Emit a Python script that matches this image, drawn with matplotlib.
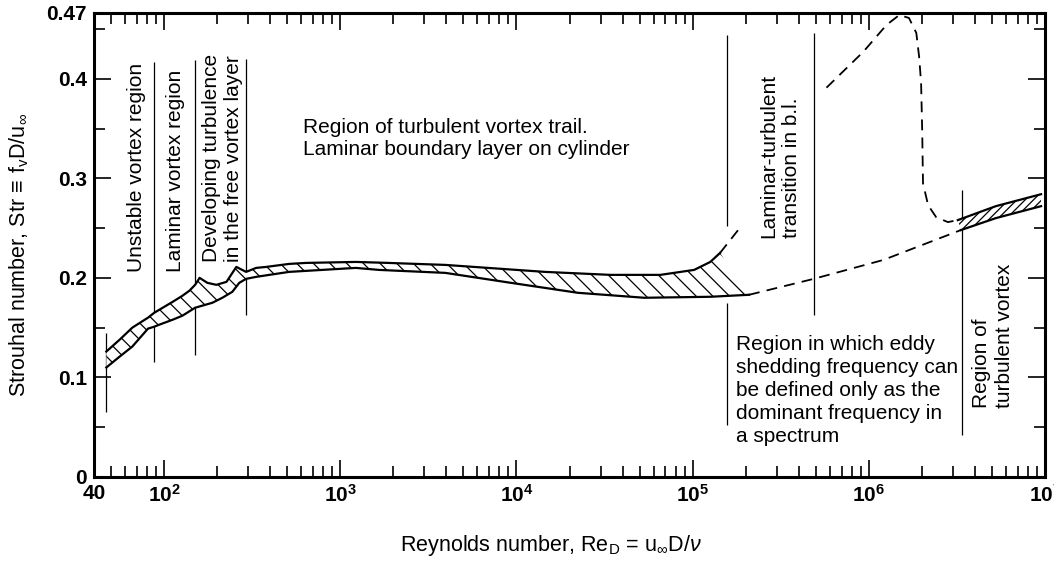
import numpy as np
import matplotlib
matplotlib.use('Agg')
import matplotlib.pyplot as plt
from matplotlib.ticker import FixedLocator, FixedFormatter, NullFormatter

plt.rcParams['font.family'] = ['Liberation Sans', 'DejaVu Sans']
plt.rcParams['mathtext.fontset'] = 'custom'
plt.rcParams['mathtext.rm'] = 'Liberation Sans'
plt.rcParams['mathtext.it'] = 'Liberation Sans:italic'
plt.rcParams['mathtext.bf'] = 'Liberation Sans:bold'
plt.rcParams['hatch.linewidth'] = 0.9

# ---------------- data (Reynolds number, Strouhal number) ----------------
band_upper_re = [47, 56, 66, 81, 88, 94, 112, 127, 139, 150, 159, 176, 198, 226,
                 257, 292, 333, 380, 512, 638, 1224, 1880, 3948, 14500, 34200,
                 65600, 1.02e5, 1.26e5, 1.43e5]
band_upper_st = [0.126, 0.138, 0.150, 0.160, 0.165, 0.168, 0.176, 0.182, 0.187,
                 0.193, 0.200, 0.195, 0.193, 0.196, 0.211, 0.206, 0.210, 0.211,
                 0.214, 0.215, 0.216, 0.215, 0.213, 0.206, 0.203, 0.203, 0.208,
                 0.216, 0.225]
band_lower_re = [47, 56, 66, 81, 88, 94, 112, 127, 150, 188, 214, 244, 267, 292,
                 333, 512, 1224, 1652, 3948, 9300, 22300, 53200, 1.26e5, 2.09e5]
band_lower_st = [0.110, 0.121, 0.131, 0.149, 0.151, 0.153, 0.158, 0.162, 0.170,
                 0.175, 0.180, 0.186, 0.195, 0.199, 0.201, 0.206, 0.210, 0.208,
                 0.205, 0.195, 0.185, 0.180, 0.181, 0.183]

trans_dash_re = [1.43e5, 1.85e5]
trans_dash_st = [0.225, 0.250]

lower_dash_re = [2.09e5, 4.87e5, 1.21e6, 3.33e6]
lower_dash_st = [0.183, 0.199, 0.218, 0.248]

upper_dash_re = [5.75e5, 9.3e5, 1.26e6, 1.49e6, 1.69e6, 1.86e6, 1.93e6, 1.98e6,
                 2.01e6, 2.03e6, 2.17e6, 2.41e6, 2.81e6, 3.2e6]
upper_dash_st = [0.391, 0.427, 0.454, 0.464, 0.461, 0.446, 0.422, 0.396,
                 0.346, 0.295, 0.273, 0.261, 0.256, 0.258]

right_upper_re = [3.2e6, 5.26e6, 9.5e6]
right_upper_st = [0.258, 0.272, 0.284]
right_lower_re = [3.33e6, 5.26e6, 9.5e6]
right_lower_st = [0.248, 0.260, 0.272]

divider_re = [47, 88, 149, 292, 1.57e5, 1.57e5, 4.87e5, 3.37e6]
divider_lo = [0.065, 0.115, 0.123, 0.163, 0.252, 0.052, 0.163, 0.042]
divider_hi = [0.145, 0.417, 0.419, 0.420, 0.444, 0.175, 0.446, 0.288]

x_major = [40, 1e2, 1e3, 1e4, 1e5, 1e6, 1e7]
x_major_labels = ['40', r'$\mathbf{10^2}$', r'$\mathbf{10^3}$', r'$\mathbf{10^4}$',
                  r'$\mathbf{10^5}$', r'$\mathbf{10^6}$', r'$\mathbf{10^7}$']
y_major = [0, 0.1, 0.2, 0.3, 0.4, 0.466]
y_major_labels = ['0', '0.1', '0.2', '0.3', '0.4', '0.47']
y_minor = [0.05, 0.15, 0.25, 0.35, 0.45]

# ---------------- figure ----------------
fig = plt.figure(figsize=(10.54, 5.61), dpi=100)
ax = fig.add_axes([94 / 1054, 84 / 561, (1045 - 94) / 1054, (477 - 13) / 561])
ax.set_xscale('log')
ax.set_xlim(40, 1e7)
ax.set_ylim(0, 0.466)

# main hatched band
poly_x = list(band_upper_re) + list(band_lower_re[::-1])
poly_y = list(band_upper_st) + list(band_lower_st[::-1])
ax.fill(poly_x, poly_y, facecolor='white', edgecolor='black', hatch='\\\\',
        linewidth=0, zorder=2)
ax.plot(band_upper_re, band_upper_st, color='black', lw=1.6, zorder=3)
ax.plot(band_lower_re, band_lower_st, color='black', lw=1.6, zorder=3)

# right hatched band
rpx = list(right_upper_re) + list(right_lower_re[::-1])
rpy = list(right_upper_st) + list(right_lower_st[::-1])
ax.fill(rpx, rpy, facecolor='white', edgecolor='black', hatch='////',
        linewidth=0, zorder=2)
ax.plot(right_upper_re, right_upper_st, color='black', lw=1.6, zorder=3)
ax.plot(right_lower_re, right_lower_st, color='black', lw=1.6, zorder=3)

# dashed curves
dash = (0, (6, 4))
ax.plot(trans_dash_re, trans_dash_st, color='black', lw=1.3, ls=dash, zorder=3)
ax.plot(lower_dash_re, lower_dash_st, color='black', lw=1.3, ls=dash, zorder=3)
ax.plot(upper_dash_re, upper_dash_st, color='black', lw=1.3, ls=dash, zorder=3)

# region dividers
ax.vlines(divider_re, divider_lo, divider_hi, color='black', lw=0.9, zorder=1)

# annotations
fs = 15
rot = dict(rotation=90, ha='center', va='bottom', multialignment='left',
           fontsize=fs, linespacing=1.22)
ax.text(70, 0.206, 'Unstable vortex region', **rot)
ax.text(116, 0.206, 'Laminar vortex region', **rot)
ax.text(214, 0.216, 'Developing turbulence\nin the free vortex layer', **rot)
ax.text(3.13e5, 0.240, 'Laminar-turbulent\ntransition in b.l.', **rot)
ax.text(5.06e6, 0.069, 'Region of\nturbulent vortex', **rot)
ax.text(614, 0.340, 'Region of turbulent vortex trail.\nLaminar boundary layer on cylinder',
        ha='left', va='center', fontsize=fs, linespacing=1.2)
ax.text(1.76e5, 0.143, 'Region in which eddy\nshedding frequency can\n'
        'be defined only as the\ndominant frequency in\na spectrum',
        ha='left', va='top', fontsize=fs, linespacing=1.28)

# axes styling
for sp in ax.spines.values():
    sp.set_linewidth(2.2)
ax.xaxis.set_major_locator(FixedLocator(x_major))
ax.xaxis.set_major_formatter(FixedFormatter(x_major_labels))
minors = [50, 60, 70, 80, 90] + [k * 10.0 ** d for d in range(2, 7) for k in range(2, 10)]
ax.xaxis.set_minor_locator(FixedLocator(minors))
ax.xaxis.set_minor_formatter(NullFormatter())
ax.yaxis.set_major_locator(FixedLocator(y_major))
ax.yaxis.set_major_formatter(FixedFormatter(y_major_labels))
ax.yaxis.set_minor_locator(FixedLocator(y_minor))
ax.yaxis.set_minor_formatter(NullFormatter())

ax.tick_params(axis='both', which='major', direction='in', length=12, width=1.2,
               top=True, right=True, labelsize=15, pad=5)
ax.tick_params(axis='both', which='minor', direction='in', length=8, width=1.2,
               top=True, right=True)
for lab in ax.get_yticklabels() + ax.get_xticklabels():
    lab.set_fontweight('bold')

fig.text(551 / 1054, 1 - 546 / 561, r'Reynolds number, Re$_\mathrm{D}$ = u$_\infty$D/$\nu$',
         ha='center', va='center', fontsize=15.5)
fig.text(19 / 1054, 1 - 255 / 561, r'Strouhal number, Str$\,\equiv\,$f$_\mathrm{v}$D/u$_\infty$',
         ha='center', va='center', rotation=90, fontsize=15.5)

fig.savefig('out.png', dpi=100)
